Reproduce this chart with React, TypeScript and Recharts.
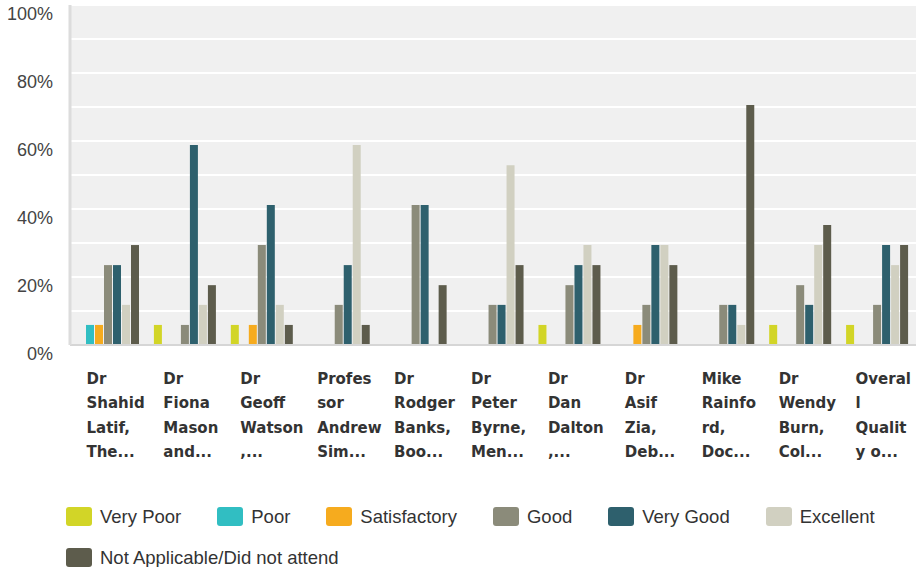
import React from "react";
import { BarChart, Bar, XAxis, YAxis, CartesianGrid, Legend } from "recharts";

const tickLabels: string[][] = [
  ["Dr", "Shahid", "Latif,", "The..."],
  ["Dr", "Fiona", "Mason", "and..."],
  ["Dr", "Geoff", "Watson", ",..."],
  ["Profes", "sor", "Andrew", "Sim..."],
  ["Dr", "Rodger", "Banks,", "Boo..."],
  ["Dr", "Peter", "Byrne,", "Men..."],
  ["Dr", "Dan", "Dalton", ",..."],
  ["Dr", "Asif", "Zia,", "Deb..."],
  ["Mike", "Rainfo", "rd,", "Doc..."],
  ["Dr", "Wendy", "Burn,", "Col..."],
  ["Overal", "l", "Qualit", "y o..."],
];
const categories = tickLabels.map((l) => l.join(" "));

const veryPoor = [0, 5.9, 5.9, 0, 0, 0, 5.9, 0, 0, 5.9, 5.9];
const poor = [5.9, 0, 0, 0, 0, 0, 0, 0, 0, 0, 0];
const satisfactory = [5.9, 0, 5.9, 0, 0, 0, 0, 5.9, 0, 0, 0];
const good = [23.5, 5.9, 29.4, 11.8, 41.2, 11.8, 17.6, 11.8, 11.8, 17.6, 11.8];
const veryGood = [23.5, 58.8, 41.2, 23.5, 41.2, 11.8, 23.5, 29.4, 11.8, 11.8, 29.4];
const excellent = [11.8, 11.8, 11.8, 58.8, 0, 52.9, 29.4, 29.4, 5.9, 29.4, 23.5];
const notApplicable = [29.4, 17.6, 5.9, 5.9, 17.6, 23.5, 23.5, 23.5, 70.6, 35.3, 29.4];

const yTicks = [0, 10, 20, 30, 40, 50, 60, 70, 80, 90, 100];

const seriesDefs = [
  { key: "veryPoor", name: "Very Poor", color: "#d2d527", values: veryPoor },
  { key: "poor", name: "Poor", color: "#31bec2", values: poor },
  { key: "satisfactory", name: "Satisfactory", color: "#f6ab1e", values: satisfactory },
  { key: "good", name: "Good", color: "#8b8b7a", values: good },
  { key: "veryGood", name: "Very Good", color: "#2e606d", values: veryGood },
  { key: "excellent", name: "Excellent", color: "#d1d0c1", values: excellent },
  { key: "notApplicable", name: "Not Applicable/Did not attend", color: "#5d5c4c", values: notApplicable },
];

const data = categories.map((c, i) => {
  const row: Record<string, any> = { name: c };
  seriesDefs.forEach((s) => {
    row[s.key] = s.values[i];
  });
  return row;
});

const XTick = (props: any) => {
  const { x, y, payload } = props;
  const lines = tickLabels[payload.index] || [];
  const yOffsets = [39, 63, 88, 112];
  return (
    <text
      x={x - 22}
      y={y}
      textAnchor="start"
      fill="#333"
      style={{ fontFamily: "'DejaVu Sans', sans-serif", fontWeight: "bold", fontSize: 15 }}
    >
      {lines.map((ln, i) => (
        <tspan key={i} x={x - 22} y={y + yOffsets[i]}>
          {ln}
        </tspan>
      ))}
    </text>
  );
};

const YTick = (props: any) => {
  const { x, y, payload } = props;
  if (payload.value % 20 !== 0) return null;
  return (
    <text
      x={x}
      y={y + 9}
      dy="0.355em"
      textAnchor="end"
      fill="#444"
      style={{ fontFamily: "'Liberation Sans', Arial, sans-serif", fontSize: 18 }}
    >
      {payload.value + "%"}
    </text>
  );
};

const LegendContent = () => (
  <div
    style={{
      width: 916,
      height: 82,
      boxSizing: "border-box",
      paddingLeft: 66,
      paddingTop: 22,
      display: "flex",
      flexWrap: "wrap",
      rowGap: 21,
      fontFamily: "'Liberation Sans', Arial, sans-serif",
      fontSize: 18.5,
      color: "#333",
    }}
  >
    {seriesDefs.map((s) => (
      <div
        key={s.key}
        style={{ display: "flex", alignItems: "center", marginRight: 36, height: 19 }}
      >
        <div
          style={{
            width: 26,
            height: 19,
            borderRadius: 3,
            background: s.color,
            marginRight: 8,
          }}
        />
        <span style={{ whiteSpace: "nowrap", lineHeight: "19px" }}>{s.name}</span>
      </div>
    ))}
  </div>
);

export default function App() {
  return (
    <div style={{ position: "absolute", left: 0, top: 0, width: 916, height: 567 }}>
      <BarChart
        width={916}
        height={567}
        data={data}
        margin={{ top: 5, right: 0, left: 0, bottom: 0 }}
        barSize={8}
        barGap={1}
      >
        <CartesianGrid
          vertical={false}
          horizontal={true}
          stroke="#ffffff"
          strokeWidth={2}
          fill="#f0f0f0"
          horizontalValues={yTicks}
        />
        <XAxis
          dataKey="name"
          height={140}
          interval={0}
          tickLine={false}
          tickSize={0}
          tickMargin={0}
          axisLine={{ stroke: "#d6d6d6", strokeWidth: 2 }}
          tick={<XTick />}
        />
        <YAxis
          width={70}
          domain={[0, 100]}
          ticks={yTicks}
          interval={0}
          tickLine={false}
          tickSize={0}
          tickMargin={17}
          axisLine={{ stroke: "#dcdcdc", strokeWidth: 3 }}
          tick={<YTick />}
        />
        <Legend
          verticalAlign="bottom"
          align="left"
          content={<LegendContent />}
          wrapperStyle={{ left: 0, width: 916, height: 82 }}
        />
        {seriesDefs.map((s) => (
          <Bar
            key={s.key}
            dataKey={s.key}
            name={s.name}
            fill={s.color}
            isAnimationActive={false}
          />
        ))}
      </BarChart>
    </div>
  );
}
